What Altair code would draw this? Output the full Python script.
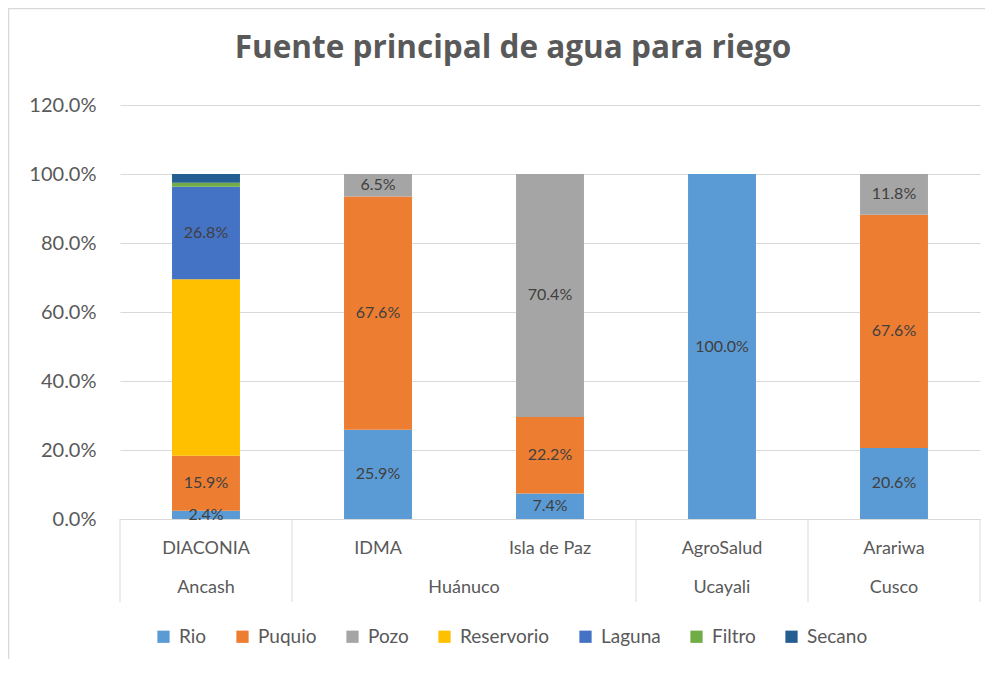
import altair as alt
import pandas as pd

orgs = ["DIACONIA", "IDMA", "Isla de Paz", "AgroSalud", "Arariwa"]
regions = ["Ancash", "Huánuco", "Huánuco", "Ucayali", "Cusco"]
series = ["Rio", "Puquio", "Pozo", "Reservorio", "Laguna", "Filtro", "Secano"]
colors = ["#5B9BD5", "#ED7D31", "#A5A5A5", "#FFC000", "#4472C4", "#70AD47", "#255E91"]
labeled_series = ["Rio", "Puquio", "Pozo", "Laguna"]

rio = [2.4, 25.9, 7.4, 100.0, 20.6]
puquio = [15.9, 67.6, 22.2, 0.0, 67.6]
pozo = [0.0, 6.5, 70.4, 0.0, 11.8]
reservorio = [51.2, 0.0, 0.0, 0.0, 0.0]
laguna = [26.8, 0.0, 0.0, 0.0, 0.0]
filtro = [1.2, 0.0, 0.0, 0.0, 0.0]
secano = [2.5, 0.0, 0.0, 0.0, 0.0]

y_ticks = [0.0, 0.2, 0.4, 0.6, 0.8, 1.0, 1.2]

values = {"Rio": rio, "Puquio": puquio, "Pozo": pozo, "Reservorio": reservorio,
          "Laguna": laguna, "Filtro": filtro, "Secano": secano}

rows = []
for i, org in enumerate(orgs):
    for k, s in enumerate(series):
        rows.append({"org": org, "region": regions[i], "serie": s, "order": k,
                     "value": values[s][i] / 100.0})
df = pd.DataFrame(rows)

# region label anchors
reg_single, reg_multi = [], []
seen = []
for r in regions:
    if r in seen:
        continue
    seen.append(r)
    members = [o for o, rr in zip(orgs, regions) if rr == r]
    if len(members) == 1:
        reg_single.append({"region": r, "org": members[0]})
    else:
        reg_multi.append({"region": r, "org": members[0]})
reg_single = pd.DataFrame(reg_single)
reg_multi = pd.DataFrame(reg_multi)

sep_start = pd.DataFrame({"org": [o for i, o in enumerate(orgs) if i == 0 or regions[i] != regions[i - 1]]})
sep_end = pd.DataFrame({"org": [orgs[-1]]})

FONT = "Lato"
GREY = "#595959"
LINE = "#D9D9D9"

x_scale = alt.Scale(domain=orgs, paddingInner=0, paddingOuter=0)
y_scale = alt.Scale(domain=[0, 1.2], nice=False)

X_AXIS = alt.Axis(labelAngle=0, ticks=False, grid=False, domainColor=LINE,
                  labelFont=FONT, labelFontSize=18, labelColor=GREY,
                  labelPadding=29, labelBaseline="middle")
Y_AXIS = alt.Axis(values=y_ticks, format=".1%", ticks=False, domain=False,
                  gridColor=LINE, labelFont=FONT, labelFontSize=20,
                  labelColor=GREY, labelPadding=24)


def xenc(band=0.5):
    return alt.X("org:N", scale=x_scale, sort=orgs, title=None, axis=X_AXIS, bandPosition=band)


stacked = alt.Chart(df).transform_filter("datum.value > 0").transform_stack(
    stack="value", groupby=["org"], as_=["y0", "y1"],
    sort=[alt.SortField("order", order="ascending")]
).transform_calculate(mid="(datum.y0 + datum.y1) / 2")

bars = stacked.mark_bar(width=alt.RelativeBandSize(0.395)).encode(
    x=alt.X("org:N", scale=x_scale, sort=orgs, title=None, axis=X_AXIS),
    y=alt.Y("y0:Q", scale=y_scale, title=None, axis=Y_AXIS),
    y2="y1:Q",
    color=alt.Color("serie:N", scale=alt.Scale(domain=series, range=colors), title=None,
                    legend=alt.Legend(orient="none", legendX=34, legendY=522,
                                      direction="horizontal", columns=len(series),
                                      symbolType="square", symbolSize=150,
                                      symbolStrokeWidth=0, symbolOpacity=1,
                                      labelFont=FONT, labelFontSize=19, labelColor=GREY,
                                      labelOffset=6, columnPadding=26, padding=0)),
)

labels = stacked.transform_filter(
    alt.FieldOneOfPredicate(field="serie", oneOf=labeled_series)
).mark_text(font=FONT, fontSize=16, color="#404040", baseline="middle").encode(
    x=alt.X("org:N", scale=x_scale, sort=orgs, title=None, axis=X_AXIS),
    y=alt.Y("mid:Q", scale=y_scale, title=None, axis=Y_AXIS),
    text=alt.Text("value:Q", format=".1%"),
)

rules_start = alt.Chart(sep_start).mark_rule(color=LINE, strokeWidth=1).encode(
    x=xenc(0), y=alt.value(414), y2=alt.value(497),
)
rules_end = alt.Chart(sep_end).mark_rule(color=LINE, strokeWidth=1).encode(
    x=xenc(1), y=alt.value(414), y2=alt.value(497),
)

reg_text1 = alt.Chart(reg_single).mark_text(font=FONT, fontSize=18, color=GREY, baseline="middle").encode(
    x=xenc(0.5), y=alt.value(483), text="region:N",
)
reg_text2 = alt.Chart(reg_multi).mark_text(font=FONT, fontSize=18, color=GREY, baseline="middle").encode(
    x=xenc(1), y=alt.value(483), text="region:N",
)

border = alt.Chart(pd.DataFrame({"a": [0]})).mark_rect(
    fillOpacity=0, stroke=LINE, strokeWidth=1.5
).encode(x=alt.value(-111.5), x2=alt.value(1000), y=alt.value(-96.5), y2=alt.value(800))

chart = alt.layer(border, bars, labels, rules_start, rules_end, reg_text1, reg_text2).properties(
    width=860, height=414,
    background="white",
    autosize=alt.AutoSizeParams(type="none"),
    padding={"left": 112, "top": 97, "right": 5, "bottom": 140},
    title=alt.TitleParams("Fuente principal de agua para riego", font="Open Sans", fontSize=31.5,
                          fontWeight="bold", color=GREY, anchor="middle", dx=-37,
                          baseline="alphabetic", offset=-82),
).configure_view(strokeWidth=0)

chart.save("out.html", embed_options={"renderer": "svg", "actions": False})
